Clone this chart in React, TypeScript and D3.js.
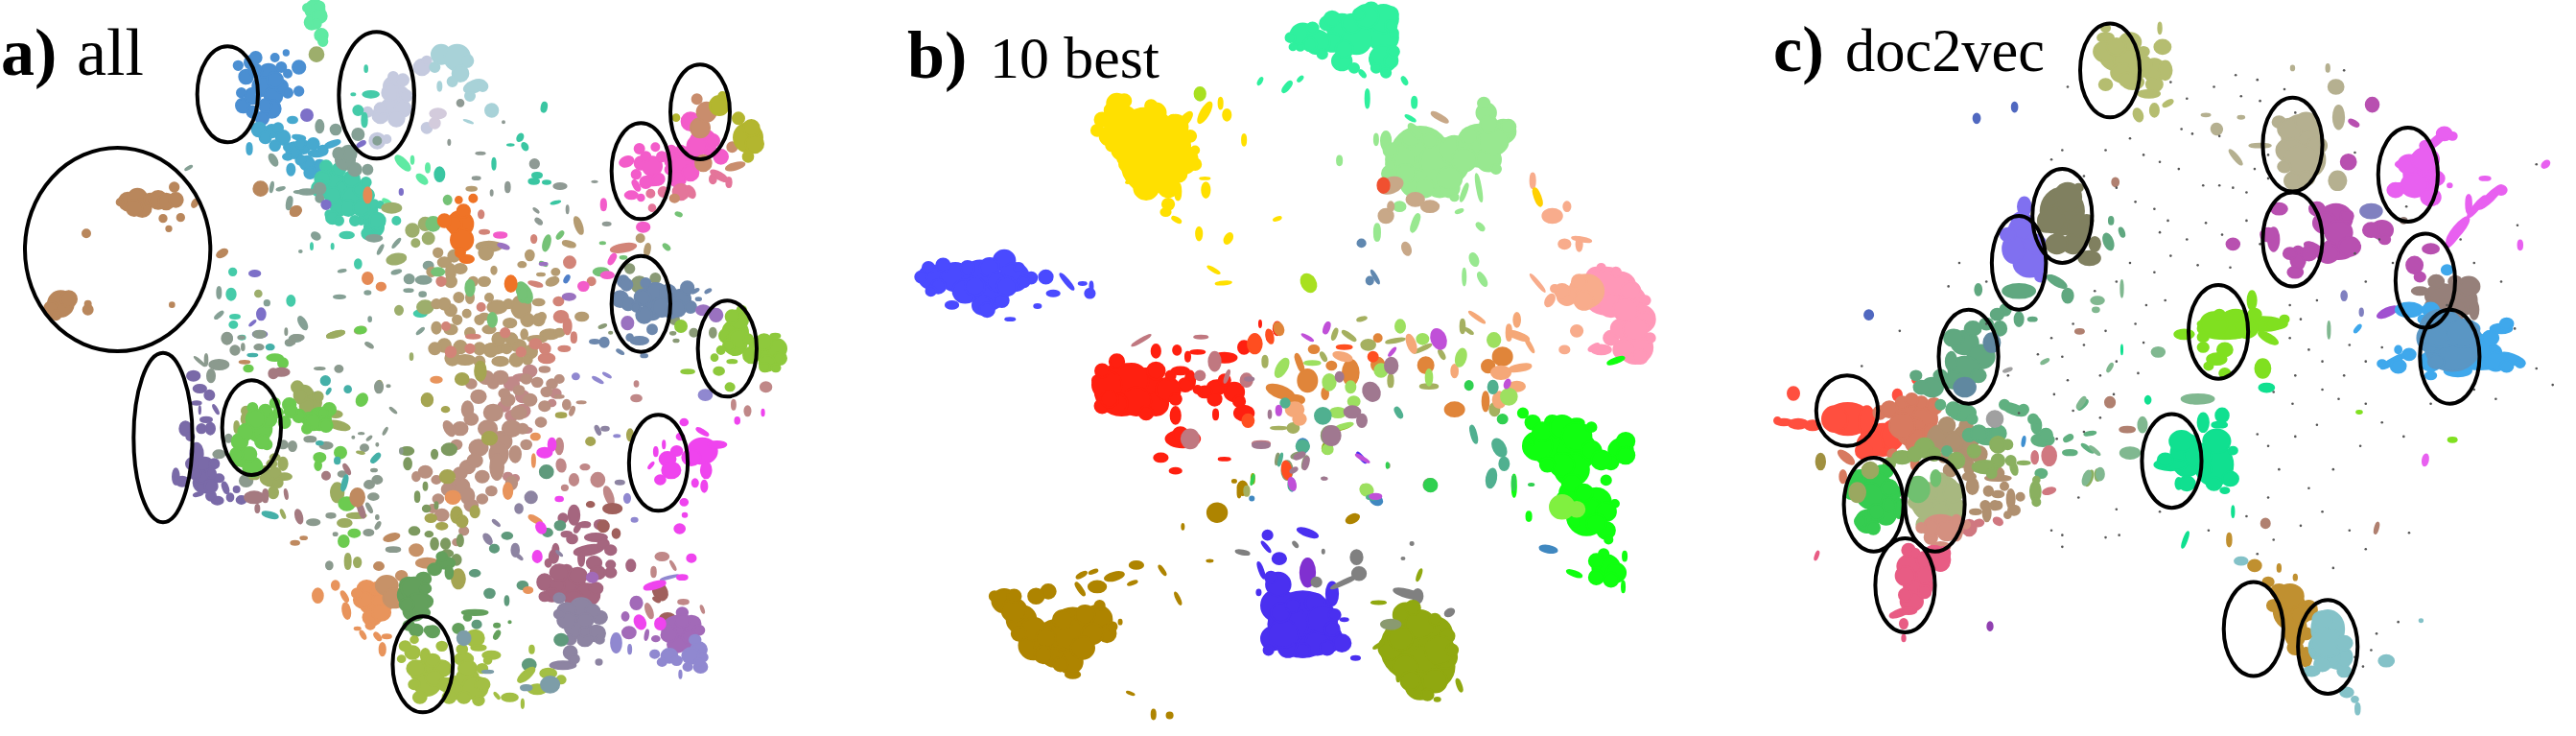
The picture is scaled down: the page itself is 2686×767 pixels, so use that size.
import React, { useEffect, useRef } from 'react';
import * as d3 from 'd3';

// t-SNE style document maps. Every blob is [x, y, spreadX, spreadY?, tilt?] read off the
// picture, in the units of the sheet (crop) it was read from.
type Blob = [number, number, number, number?, number?];
type Pt = [number, number];

const panelTitles = [
  { bold: 'a)', plain: 'all' },
  { bold: 'b)', plain: '10 best' },
  { bold: 'c)', plain: 'doc2vec' },
];

// ---- panel a, upper left sheet
const a1Brown: Blob[] = [[400,630,28],[430,620,30],[445,650,28],[470,625,20],[495,625,28],[520,630,25],[550,625,22],[375,632,10],[420,650,25],[545,585,14],[510,683,11],[565,680,11],[528,715,8],[270,730,12],[695,792,18,10,-30],[190,950,40],[215,935,25],[160,965,22],[175,985,15],[275,968,15],[275,950,9],[538,953,7],[815,590,22],[925,660,18,14,-30],[610,635,8,14,30]];
const a1Blue: Blob[] = [[785,195,20],[800,180,18],[840,230,30],[820,270,30],[855,300,28],[770,240,22],[745,205,14],[760,330,22],[850,340,28],[820,370,20],[860,180,12],[880,270,20],[935,210,20],[935,285,14],[895,165,8],[960,360,15],[800,220,20],[790,300,25],[860,250,25],[880,210,15],[900,290,15],[790,350,18],[830,330,20],[755,290,14],[900,230,12]];
const a1Sky: Blob[] = [[810,405,22],[850,410,20],[885,430,22],[860,455,16],[780,465,8,18],[915,375,15,10],[935,430,20,7,10],[920,470,25],[960,510,22],[990,480,25,10],[950,460,20],[830,430,18],[870,400,15],[900,460,12],[980,450,18],[1000,520,20],[940,500,15],[970,540,18],[1010,470,15],[1040,450,25,8,-20],[940,450,15],[900,490,15,10],[910,530,12,18]];
const a1Mint: Blob[] = [[985,30,30],[975,70,22],[1000,50,22],[1005,110,20],[1260,510,12,30,-45],[1320,560,20,10,40],[1338,525,6,14],[1290,500,4,12],[1210,630,14,5,30],[1010,130,14],[960,25,12],[990,75,14],[1000,20,15]];
const a1Lav: Blob[] = [[1230,270,30],[1250,300,30],[1220,340,30],[1260,340,25],[1190,360,25],[1240,370,25],[1335,400,16],[1320,210,25],[1335,190,14],[1180,440,24],[1210,435,12],[1220,290,25],[1190,340,18],[1270,300,18],[1260,250,18],[1230,240,15],[1150,350,15]];
const a1Teal: Blob[] = [[1040,560,35],[1080,600,35],[1110,620,40],[1150,660,30],[1060,650,25],[1010,560,25],[1170,710,30],[1130,590,25],[1170,640,15],[1030,670,12],[1085,735,22,10],[1130,690,12],[1240,690,12],[1160,295,25,10],[1120,345,15],[1140,375,8,22],[728,850,11],[723,920,14,18],[910,940,12,16],[735,990,15,6],[730,1015,12,10],[757,1055,10,6],[1120,825,10,14],[1315,980,20,10],[975,770,3,10],[1040,770,3,8],[1105,295,6,3],[1145,215,4,10],[1000,590,25],[1040,610,25],[1020,520,18],[1060,530,20],[1100,560,25],[1150,610,20],[1090,650,25],[1130,650,25],[1040,680,20],[1180,690,25],[1150,730,18],[1190,640,10],[1110,690,15],[1060,690,14],[1145,570,15]];
const a1Sage: Blob[] = [[855,500,10,20,-30],[988,738,14,10,30],[905,635,8,20,10],[1000,395,12,20],[1050,405,16],[1080,500,30],[1120,420,18],[1180,440,12],[1170,745,25,10],[1190,780,4,16,30],[1240,760,4,18,40],[1062,928,18,5],[1150,915,9,5],[1280,872,15,14],[1278,908,14,4],[1322,920,10,7],[1325,875,24,12],[1340,830,15,12],[947,1010,10,22,-30],[712,1058,14,16],[835,947,8],[905,1072,12,9],[925,1058,20,10],[1155,1078,12,4,30],[1315,1035,4,14,50],[1157,998,4,7],[940,786,4,3],[1070,847,12,3,-10],[1240,850,15,5,-15],[685,915,6,18],[685,985,5,16,50],[850,585,4,16,10],[878,590,13,4,-15],[590,525,12,3,-30],[945,600,25,4],[1000,590,18],[1090,480,25],[1110,530,20],[1150,530,15],[1060,480,18],[960,600,25,8],[1000,620,12]];
const a1Olive: Blob[] = [[990,170,22],[1225,650,30,15],[1240,810,30,16,-10],[1248,970,12,14],[808,918,10],[1050,1045,28,8,-15],[1127,1032,18,10,-15],[1287,1115,4,10],[1330,960,25,20],[1290,720,20],[1330,700,20],[1340,745,18],[1300,760,12]];
const a1Violet: Blob[] = [[817,982,13,18],[797,855,17,9],[813,1045,22,10],[790,1010,12,3,-40],[1255,600,5,9],[960,360,18],[1130,450,14,6,-30],[1020,640,14]];
const a1Orange: Blob[] = [[1192,896,14,12],[925,660,16,14,-30],[1150,870,16,18],[1150,610,12,24]];

// ---- panel a, upper right sheet
const a2Pale: Blob[] = [[30,170,30],[80,180,40],[110,190,20],[90,230,25],[65,255,15],[10,210,15],[120,300,15],[135,270,35,18,-20],[160,270,15],[188,345,20],[25,270,6,14],[115,380,15,2,20]];
const a2Lilac: Blob[] = [[20,355,25,15],[10,385,16]];
const a2Teal: Blob[] = [[352,335,8,15,10],[277,430,8,12,30],[292,458,8,12,-30],[247,453,10,2],[195,512,5,18],[320,567,16,8],[360,570,12,5],[330,548,15,8],[388,633,15,3,-15],[25,545,15,22]];
const a2Gray: Blob[] = [[322,512,14],[153,479,14,3],[225,382,3,3],[55,445,3,8],[327,658,10,3,40],[425,655,3,12],[335,692,12,6,40],[238,585,7,16],[140,557,12,4],[188,603,3,8],[510,568,8,2],[548,700,12,5],[402,582,20,9],[90,322,10]];
const a2Orange: Blob[] = [[90,700,40],[95,750,35],[70,700,25],[100,660,20],[130,620,12],[85,625,10],[90,790,15],[248,887,18,25],[40,690,20],[110,810,22,12]];
const a2Tan: Blob[] = [[60,850,15,25],[40,820,20,15],[90,840,20,15],[0,850,14,14],[120,930,12,18],[165,880,18,14],[195,845,8,12],[165,990,15,10],[205,960,30,20],[180,1030,20,12],[245,1010,20,14],[280,960,30,35],[290,1045,10,15],[330,1060,30,10],[370,1045,30,15],[400,1040,15,12],[335,945,18,10],[270,1080,25,18],[60,970,18],[60,1030,20,15],[90,1085,20],[15,1025,14,18],[195,1090,35,16],[105,1125,30,15],[215,1130,25,14],[180,770,40,15],[170,790,22],[460,705,10,28,-20],[430,763,20,8,15],[307,798,13,16],[378,880,20,12,-20],[388,850,12,10],[653,745,12],[675,780,8,18,10],[470,990,20,13],[342,858,12,4],[283,827,12,8],[125,590,16,6],[20,790,14],[70,800,18],[60,880,18],[130,880,14],[85,930,15],[40,950,18],[80,1000,14],[120,1040,15],[150,1090,18],[40,1080,20],[10,1090,18],[65,1120,22],[150,1000,14],[210,1060,20],[240,950,14],[250,1060,18],[300,1000,20],[310,1100,20],[335,1000,18],[235,1090,15],[180,930,12],[150,1130,16],[265,1125,20],[300,1125,14],[345,990,12],[185,1095,20],[15,950,14],[110,980,12]];
const a2Rose: Blob[] = [[405,990,22,18],[425,1020,12,25],[445,1055,8,16],[325,1075,18,15],[360,1120,25,15],[325,888,22,6,15],[397,942,15,13],[432,820,18,18],[320,747,8,12],[600,775,40,12,-10],[155,670,8,12],[165,725,15,6],[130,1052,22,6],[500,880,12,12],[415,1090,18,8],[30,880,14],[60,1100,16],[120,1090,14],[230,1040,14],[355,1090,16],[280,1100,14],[155,960,12],[45,1020,12]];
const a2Green: Blob[] = [[50,625,12,14],[360,760,10,25,15],[402,735,6,14,40],[290,915,20,35,-30],[285,920,14,25],[190,1000,14,22],[120,900,14,25],[5,700,22],[20,850,20,12],[350,825,12,4,25],[535,760,8,3],[773,670,10,5,20],[735,772,12,6,40],[530,850,24,12],[600,805,10,4]];
const a2Magenta: Blob[] = [[215,735,20,8],[650,465,15],[700,460,12],[610,505,22,15,-20],[655,510,20],[690,520,30],[720,490,15],[690,565,35,15],[625,610,20,12],[655,618,10],[640,580,8,18,-30],[760,500,30],[790,520,35],[770,560,25],[810,540,25],[850,440,40,35],[810,380,28],[905,490,22],[662,710,20,15],[538,640,8,18],[565,810,8,18,30],[475,895,16,14],[550,860,20,10],[670,490,15],[640,545,14],[710,560,18],[670,570,18],[750,470,15],[800,480,20],[745,530,14],[780,470,15],[830,500,15],[870,470,20],[830,455,30],[880,440,20]];
const a2Coral: Blob[] = [[780,600,25],[810,600,12,20,-30],[725,600,15],[685,605,12],[690,650,10],[930,570,8,15],[900,550,30,10,30],[880,560,10,14]];
const a2Wheat: Blob[] = [[840,400,30],[830,310,15],[860,350,30],[850,510,25],[950,520,30,10,-15],[940,460,15],[760,620,14,12]];
const a2Lime: Blob[] = [[900,330,30],[910,300,12],[990,430,45],[1010,450,28],[1000,400,25],[960,370,18],[765,368,10],[990,490,16]];
const a2Slate: Blob[] = [[700,930,45],[690,970,30],[720,960,30],[780,935,30],[800,900,20],[810,960,18],[600,880,18],[590,935,25],[615,950,20],[665,985,25],[690,1030,15],[650,1065,28,12],[620,1055,10],[540,1070,14,15],[510,1068,15,6],[590,1100,12,4,30],[665,1112,10,5],[825,910,12,4,-30],[865,910,10,4,-30],[835,935,8,4],[660,930,25],[740,915,25],[750,975,20],[770,965,25],[640,960,14],[610,890,18],[670,885,15]];
const a2Moss: Blob[] = [[650,890,25],[700,870,15],[620,840,14],[760,1000,14],[535,1020,12,4,-20],[560,1040,5,3],[755,1042,8,4],[765,1065,8,4],[880,1040,10,15],[820,1040,12]];
const a2Purple: Blob[] = [[850,970,22,15],[890,985,20],[613,1010,18,20],[430,928,20,10],[350,825,12,4],[225,770,18,6,20]];
const a2Grass: Blob[] = [[950,1040,40],[960,1000,30],[920,1050,20],[950,1075,35],[1060,1100,45],[1080,1090,30],[1075,1050,15,7],[1020,1080,25],[780,1020,18],[885,1118,10],[940,1130,15,5],[960,1060,30],[1040,1070,25],[1090,1120,20],[1000,1110,25],[1050,1135,25],[930,1080,18],[905,1095,12],[990,1060,15],[970,970,14],[940,990,20]];
const a2Blue: Blob[] = [[423,872,6,12,30]];

// ---- panel a, lower sheet
const a3Grass: Blob[] = [[1175,20,14,12],[1090,22,18,6],[1205,70,12],[1300,8,14],[1330,10,12]];
const a3Fuchsia: Blob[] = [[1130,270,40],[1100,290,25],[1170,250,25,10],[1130,210,18,6,30],[1060,270,15],[1035,295,22],[1045,330,25],[1015,360,14],[1070,225,10],[1140,330,14,25],[1135,380,8,18],[1110,370,8,12],[1080,180,10],[1003,272,5,14],[1025,250,3,12],[990,315,3,12,40],[1080,430,10],[1068,513,14],[1082,470,6],[1100,605,12],[1075,665,14,7],[1000,690,30,10,-15],[1015,810,14,18],[960,805,14,22,-25],[1225,175,6,10],[1295,150,3,10],[690,510,12,18,-30],[720,250,10,20],[700,275,20,15],[680,600,12,18],[740,420,10,7]];
const a3Rose: Blob[] = [[950,105,14,10],[950,60,5,8],[1020,600,18,12],[1050,628,3,16,-30],[997,648,6,16],[985,770,8,24,-20],[1078,742,14,7],[1130,765,3,12,-20],[1253,145,8,15],[1303,70,15,15],[1215,125,5,15],[640,40,25,10],[640,145,20],[650,205,15,8],[740,255,10,25],[745,315,12,20,-10],[780,360,12,18],[810,320,12,8],[755,385,8,8],[845,360,18,22],[875,410,10,30,-20],[640,100,18],[610,60,20],[660,20,18],[590,130,16],[610,160,16],[730,90,14],[720,120,10],[600,350,12],[620,355,10]];
const a3Brown: Blob[] = [[1015,710,18,28,-30],[1005,735,10,5,30],[1035,795,22,18],[860,505,15,18],[825,437,10,8],[885,450,25,15],[895,528,10,14]];
const a3Orchid: Blob[] = [[1065,830,45],[1100,810,25],[1075,775,15],[1090,870,25],[1060,875,25],[950,745,16,20],[920,787,9,13],[930,838,18,18],[978,845,4,16,10],[1003,857,10,8],[830,665,15],[1050,805,14],[1095,850,20],[1040,845,22],[1120,830,15],[1075,800,20]];
const a3Periwinkle: Blob[] = [[1120,890,22],[1100,910,25],[1125,945,18],[1040,910,22],[1000,905,12],[1070,968,3,12],[895,870,14,30],[932,890,4,14],[1138,95,18,16],[925,418,8,14],[945,485,8,6],[1040,665,25,3,-15],[897,223,8,3],[845,48,16,4,30],[870,33,12,3,30],[785,37,9],[1110,860,15],[1130,915,14],[1020,930,12],[1060,925,14],[1090,945,12],[1120,930,12]];
const a3Mauve: Blob[] = [[780,470,15,30],[820,580,40,15,-10],[880,580,15],[835,620,20],[880,650,15],[800,605,8,25],[725,600,12,20],[700,680,20,25],[770,690,40],[735,690,20],[815,720,35],[780,730,25],[935,628,12,18],[850,500,14],[760,530,14,8],[750,480,12,14],[810,500,14,8],[775,545,14],[840,540,30,12],[860,560,15],[845,650,20],[880,625,12],[760,640,14],[740,650,25],[720,720,20],[790,660,25],[840,700,18],[730,580,8,20],[790,510,6,16,30],[700,725,14,14],[710,620,8,12]];
const a3GreyLav: Blob[] = [[800,760,30],[760,770,25],[790,820,35],[840,840,25],[850,790,20],[810,860,20],[770,900,18,20],[750,940,35,12],[848,930,8],[905,368,12,6],[845,205,5,15,-25],[865,200,10,6],[663,415,16,18],[630,450,10,14],[740,590,10,3,40],[630,600,12,4,40],[620,580,10,20],[568,495,12,4,40],[545,545,8,18,-35],[830,770,20],[740,730,15],[770,860,15],[810,800,22],[850,860,12],[780,920,14],[760,800,25],[810,835,15],[740,780,14]];
const a3Dark: Blob[] = [[745,860,18],[708,525,13,12],[563,575,12,12],[550,715,14,14],[705,335,18,20],[515,812,12],[658,938,18,18],[742,503,14,14],[598,535,14,10],[640,690,14,12],[510,652,14,10],[597,738,5,14]];
const a3Tan: Blob[] = [[545,200,25],[580,240,30],[575,280,25,35],[570,320,18,40],[610,200,25],[560,150,25],[630,150,20],[490,140,15,25],[620,280,15,25],[610,370,15,20],[470,380,25],[490,410,18,25],[375,335,18],[405,360,12],[350,350,10,14],[580,40,20],[630,80,14],[700,130,15,15],[700,15,14,8],[740,45,12],[740,100,12,4],[760,125,10,15],[800,118,12,3],[775,145,5,14,20],[520,100,20],[500,170,18],[470,200,20],[520,260,25],[490,320,20],[530,350,18],[560,60,14],[600,110,18],[660,110,18],[640,200,15],[650,250,14],[590,90,14],[540,40,20],[500,60,14],[460,250,14],[440,200,12,25,-30],[500,440,18],[480,520,12],[470,340,18],[440,390,20],[410,420,14],[395,450,12],[530,420,14],[555,395,14],[510,300,20],[420,470,18],[460,555,10],[720,60,14],[680,55,14],[705,85,14],[690,180,14],[650,45,14]];
const a3Olive: Blob[] = [[550,230,20],[460,470,15,25],[390,480,15,12],[420,505,15,10],[475,490,15,18],[510,460,12,18],[435,350,20],[380,110,15,20],[430,140,10,8],[525,20,15,30],[745,158,14,7],[825,240,12],[933,220,8,18],[465,670,18,30],[475,45,18],[250,68,8,18]];
const a3Moss: Blob[] = [[440,265,20,18],[400,280,8,14],[325,270,18,12],[327,310,10,18],[375,380,5,12],[353,413,6,16],[378,450,10,10],[405,440,4,10],[430,560,12,16],[400,560,10,18],[435,590,15,10],[470,550,8,18],[385,530,10,8],[345,520,14,12],[460,610,12,16]];
const a3Orange: Blob[] = [[600,395,12,25],[450,415,20],[405,47,15,9],[675,225,12,10],[670,300,4,20],[675,485,20,8,30],[655,705,12,9],[240,740,45],[215,700,25],[230,790,25],[205,735,25],[160,770,10,25,-10],[155,725,6,18,-30],[130,690,10,14],[82,722,14,22],[190,825,8,4],[205,845,5,14,-30],[245,850,6,14,-40],[270,850,12,6],[258,890,8,20],[260,740,30],[190,715,15],[245,700,20],[225,815,12],[255,775,25]];
const a3Clay: Blob[] = [[270,690,30],[290,730,30],[310,660,15],[350,580,18],[380,620,30,15]];
const a3Forest: Blob[] = [[340,720,40],[330,690,25],[370,670,20],[345,770,30],[375,740,20],[430,620,25,18],[400,640,18],[375,775,12],[350,830,18],[395,835,18],[465,825,15],[510,775,35,8],[490,790,10],[570,845,6,14,30],[570,815,8,6],[605,805,3,3],[345,700,35],[355,745,30],[325,750,20],[375,700,15],[420,600,14],[440,650,10,20],[385,830,12],[330,815,15]];
const a3Lime: Blob[] = [[370,960,35],[340,900,20],[320,880,15],[380,1000,35],[345,1000,15],[420,950,25],[375,910,12,22],[460,1010,35],[490,980,30],[510,1010,35],[480,920,25,20],[510,855,25],[555,908,24,12],[545,925,10],[520,1050,15],[605,1040,22,12],[650,970,28,12,-40],[680,1015,25,15],[710,965,22,15],[745,985,12],[665,890,6,12],[520,885,20,8],[640,1060,3,14],[570,1035,3,12,-40],[350,950,25],[400,980,25],[360,1040,18],[430,1000,20],[395,925,20],[440,1040,18],[480,1040,18],[530,1000,20],[490,950,25],[475,890,14],[530,950,14],[345,860,10],[310,920,10],[420,880,14]];
const a3Steel: Blob[] = [[480,855,18,22],[715,1000,25,25],[650,1010,15,8],[545,960,15,4]];

// ---- panel a, left sheet
const a6Purple: Blob[] = [[245,155,20,15],[265,195,20,12],[295,215,15,15],[315,260,4,16,-30],[285,292,18,8],[255,240,14,5],[265,262,2,12],[220,320,18,22],[235,345,12],[270,320,14],[298,320,14,18],[255,400,20,35],[280,440,30],[310,430,15],[190,470,10,25],[210,485,20,15],[280,490,35,30],[325,475,15,12],[320,545,18,12],[300,530,15],[260,525,15,5,-15],[345,505,8,18,-20],[360,535,10,12],[380,510,9,9],[395,543,15,12],[270,470,20],[300,500,20],[250,460,18],[240,430,18],[300,460,15]];
const a6Sage: Blob[] = [[350,38,16,18],[325,120,30,15],[300,155,12,20],[265,110,22,3,40],[285,105,4,18],[375,75,14,14],[400,65,4,10],[395,35,10,4],[452,25,20,11],[450,65,14,8],[548,50,14,7],[570,35,20,8],[535,17,3,10],[795,60,13,4,30],[640,132,16,3],[700,133,12,10],[628,210,8,3],[825,190,12,18],[855,187,5,3],[870,263,13,3,40],[845,328,3,12,30],[770,335,8,2],[795,350,9,3,-40],[745,347,3,3],[820,370,3,4],[780,380,12,10],[810,450,9,4],[895,390,4,8],[555,375,12,15],[525,370,15,12],[410,483,20,18],[610,353,18,8],[660,373,20,10],[355,350,10,12],[325,400,18,12],[620,613,20,9],[675,592,14,7],[689,650,6,4],[670,748,10,12],[795,495,15,12],[820,480,15,12],[808,533,16,10],[795,568,5,16,-30],[822,623,5,12,30],[820,597,4,6],[793,645,15,9],[870,698,22,7],[710,462,12,8]];
const a6Green: Blob[] = [[450,320,40],[480,290,25],[390,360,25],[395,410,28],[430,440,30],[475,370,15],[430,255,15],[500,240,15],[470,265,20],[640,290,35],[670,260,20],[605,290,20],[575,280,20],[545,245,20],[530,300,18],[417,132,14,10],[705,395,18,18],[525,115,15,15],[500,98,25,10],[725,555,25,20],[748,647,18,12],[715,672,16,18],[772,230,16,20,30],[768,12,17,10],[640,410,18,14],[635,435,10,15],[440,290,30],[410,330,25],[460,360,22],[420,400,22],[380,400,20],[620,300,25],[660,310,20],[600,320,15],[550,265,20],[510,270,15],[650,270,15]];
const a6Olive: Blob[] = [[420,290,25],[380,315,7,18],[590,215,30],[570,190,18],[620,240,25],[700,310,35,12,15],[690,275,20,10],[490,475,35,25],[530,470,22,10],[525,430,14,20],[500,410,15,10],[490,430,15,12],[435,470,15,8],[495,520,15,18],[690,25,28,8,-15],[755,592,30,8],[768,395,12,3,10],[718,615,22,12],[728,735,9,24],[758,738,11,15],[695,520,20,30],[525,587,4,14,-25],[600,250,22],[580,220,18],[635,220,15],[410,265,14],[500,460,18],[470,450,12],[510,490,14]];
const a6Mauve: Blob[] = [[435,535,30,18],[445,570,6,12],[470,530,8,20],[575,595,10,22,-15],[535,525,4,15,-10],[725,447,6,18,-30],[660,467,12,12],[520,143,25,12],[495,148,14,15],[770,575,8,25,-20]];
const a6Brown: Blob[] = [[758,535,22,28],[865,660,25,10,-15],[825,750,15,12],[563,677,13,6],[590,662,10,4],[405,112,16,4]];
const a6Teal: Blob[] = [[485,65,12,8],[430,90,15,4],[658,170,14,14],[668,203,4,10,30],[728,197,10,10],[695,420,8,10],[640,365,10,5],[815,412,18,7,-45],[485,590,25,8,15],[718,490,7,25,15]];

// ---- panel b, whole panel
const bMint: Blob[] = [[900,60,30],[960,50,35],[985,80,30],[985,125,28],[930,85,30],[880,90,20],[820,75,25],[850,90,25],[900,130,20],[960,20,15],[1000,30,15],[870,50,15],[795,80,10],[985,40,30],[733,173,3,8,30],[788,185,5,14,40],[815,168,3,7,45],[952,210,4,20],[1048,218,5,12],[1028,172,4,9,-30],[942,157,4,9,-40],[1040,252,3,12,-60],[962,135,3,14,-20],[880,40,16],[920,50,20],[950,35,25],[1005,70,10],[1000,130,14],[1005,110,12],[905,105,18],[925,145,10],[860,115,10],[835,95,14],[815,100,8],[990,155,10],[970,145,10],[1000,55,12],[935,30,12],[840,60,12],[800,100,7]];
const bYellow: Blob[] = [[500,290,60],[450,260,35],[510,350,60],[540,310,50],[575,340,30],[440,220,20],[480,260,25],[400,278,12],[425,290,20],[490,380,25],[545,400,20],[545,435,12],[580,255,8,20,40],[620,240,8,25,30],[652,220,4,12],[665,245,8,12],[700,298,4,12],[565,408,6,18],[622,405,8,16],[540,452,10,8],[562,468,10,4,30],[608,498,6,14],[668,508,7,12,30],[768,466,8,3,-20],[638,575,14,3,30],[658,603,16,3,-5],[470,385,12,3,-20],[620,380,10,2],[410,255,15],[430,235,15],[455,215,14],[520,240,20],[560,270,25],[590,290,12],[600,320,8],[600,350,12],[470,330,30],[460,350,15],[450,320,20],[500,400,25],[530,380,25],[540,355,30],[565,370,18],[480,290,30],[525,270,20],[430,310,12],[555,255,10],[510,225,12]];
const bLeaf: Blob[] = [[610,200,11,14],[832,603,14,20,-30]];
const bBlue: Blob[] = [[60,590,25],[110,590,30],[160,590,35],[210,555,22],[180,570,20],[230,590,30],[180,630,30],[130,620,25],[75,610,15],[295,590,14],[265,592,12],[338,600,4,22,-40],[370,604,8,3],[385,625,10,10],[388,610,3,10],[310,625,13,6],[278,652,7,4],[103,650,13,8],[222,680,10,3],[165,650,20],[40,590,12],[55,570,12],[85,565,14],[135,570,14],[150,610,20],[195,600,20],[240,570,10],[250,600,12],[205,640,14],[175,660,15],[60,620,10],[215,610,20]];
const bPaleGreen: Blob[] = [[1060,330,60],[1020,340,30],[1110,345,50],[1130,320,30],[1180,310,45],[1230,280,25],[1195,240,20],[1200,340,25],[1050,390,30],[1100,390,30],[1120,400,20],[990,300,10,20],[970,297,4,12],[1180,400,4,30,-10],[1150,410,4,20,20],[895,342,5,10],[1018,440,12,10],[1050,475,6,20,20],[972,495,6,18],[1170,553,8,14,-20],[1150,590,3,18],[1187,595,6,16,-30],[1140,450,8,3,-20],[1183,483,5,10,-45],[1000,320,15],[1040,295,18],[1000,370,18],[1080,300,15],[1120,380,25],[1150,340,25],[1210,300,30],[1240,270,15],[1160,290,18],[1200,265,18],[1190,220,12],[1215,360,10],[1070,400,20],[1130,420,8],[1030,370,20],[1000,350,10],[1050,280,8,20,-40]];
const bMixedUpper: Blob[] = [[1100,250,5,20,-60],[1000,395,25,16,-20],[990,460,15,15],[1000,440,6,10],[1032,530,8,14,-20],[1050,425,18,14],[1080,440,18,12]];
const bRedOrange: Blob[] = [[985,395,12,16]];
const bMisc: Blob[] = [[940,518,8,8],[968,590,3,16,-30],[957,598,7,8]];
const bPink: Blob[] = [[1490,640,30],[1510,680,30],[1420,590,20],[1470,610,30],[1500,740,35],[1450,720,15],[1430,745,20,10],[1470,700,20],[1440,620,50],[1415,740,12,5,-30],[1520,680,15],[1530,720,10],[1520,640,10],[1460,580,10],[1490,620,20],[1430,570,8],[1500,700,25],[1510,760,15],[1475,745,20],[1450,650,25],[1480,660,25]];
const bPeach: Blob[] = [[1400,620,35],[1360,630,20],[1380,705,12],[1355,745,10,8],[1325,640,8,14,30],[1300,603,3,24,-40],[1330,460,20,15],[1360,440,7,10],[1355,520,12,10],[1385,520,6,15],[1390,510,20,4,10],[1290,385,5,16],[1350,620,15],[1385,600,15],[1395,640,20],[1335,615,8]];
const bGold: Blob[] = [[1300,420,6,20,-20]];
const bRed: Blob[] = [[450,830,55],[500,820,35],[520,860,25],[470,810,35],[410,865,15],[545,830,25],[400,810,10],[440,770,15],[560,885,10,18],[575,935,35,18],[530,975,14,9],[645,825,20,15],[680,835,20],[620,835,15,12],[590,810,10,20],[570,790,18,8],[700,740,12,14],[722,732,12,20],[563,746,8,10],[520,748,9,14],[605,750,15,4],[768,700,8,14],[752,716,6,12],[660,762,25,10],[700,880,20,16],[642,883,5,11],[560,1003,12,6],[733,690,2,7],[585,760,5,10],[660,978,12,3],[420,820,30],[410,790,14],[480,855,30],[500,880,14],[440,860,22],[520,790,18],[560,850,12],[580,820,14],[605,830,8],[660,810,12],[640,850,14],[690,855,12],[550,800,10],[425,850,18],[570,925,15]];
const bRoseGray: Blob[] = [[590,935,18,20],[490,725,22,3,-30],[612,718,14,3],[640,770,12,20],[610,800,10,10],[705,810,12,14],[735,945,18,5],[665,802,3,14,20]];
const bOrange: Blob[] = [[165,175,8,30,-20],[190,230,30,35],[105,265,45,18,20],[150,290,30,15],[325,205,25,40],[245,270,10,18],[265,183,15,13],[410,180,20,22],[560,182,24,25],[800,155,30,28],[650,320,30,22],[100,68,14,20,-20],[210,132,16,12],[410,97,12,12],[755,185,20,20],[747,295,10,30]];
const bRedOrange2: Blob[] = [[25,115,22,30],[125,510,14,28,-10],[4,355,18,20],[72,92,10,22,-15],[305,125,24,6],[395,155,15,15]];
const bPeachCore: Blob[] = [[150,320,28,22],[165,350,20,18],[795,205,30,20],[790,290,20,25],[855,190,35,10,-10],[515,115,12,30,-20],[650,200,10,20],[845,40,10,22],[720,32,30,5,35],[820,80,8,25],[850,90,35,10,20],[885,120,5,25,-30],[300,155,30,12,15],[845,248,25,15]];
const bLime: Blob[] = [[110,190,15,32,30],[258,235,20,25],[325,250,15,18],[335,295,18,15],[285,330,25,15],[420,198,20,20],[480,60,15,20],[550,100,18,16],[670,158,15,28,15],[820,280,25,25],[773,103,20,22],[205,175,25,6],[305,372,28,6,-15],[253,445,16,15],[375,572,20,18,30],[570,220,10,25]];
const bTeal: Blob[] = [[238,340,25,25],[120,300,14,14],[175,435,20,18],[475,330,8,18,-30],[710,398,8,28,-15],[790,440,18,30,-30],[805,490,15,20],[105,477,4,20,15],[770,250,15,20],[765,535,15,30,10],[140,555,10,18],[395,595,20,7]];
const bGreen2: Blob[] = [[575,557,20,20],[695,245,12,14],[800,350,15,14],[18,540,3,16,15],[835,550,5,24],[890,555,8,3],[440,495,3,8]];
const bMauve: Blob[] = [[265,402,28,30],[390,265,25,30,-30],[330,328,25,18],[165,465,18,8,-25],[185,488,8,20,15],[360,355,15,20],[452,183,20,25],[290,218,12,15],[45,432,27,9],[147,510,12,6,-30],[243,536,8,3],[8,225,14,5],[72,335,4,12]];
const bOliveBits: Blob[] = [[450,230,8,20],[320,90,25,6,35],[380,118,22,16],[465,105,30,5,-10],[550,130,30,5,-25],[610,148,6,16,-30],[570,248,28,7],[360,37,15,5,-15],[57,170,8,18],[100,378,25,4],[145,378,18,15],[0,575,8,15],[240,155,6,15,-30],[775,320,15,20],[675,60,7,22],[695,75,15,4,35],[275,85,6,18,20]];
const bViolet: Blob[] = [[600,100,22,32,-20],[100,323,8,15],[190,95,20,4,30],[250,65,8,18,20],[455,140,4,16,40],[142,553,10,20,-15],[362,473,24,4,30],[403,592,18,8],[815,240,8,14,20]];
const bGreen: Blob[] = [[1340,950,50],[1380,960,40],[1300,950,30],[1370,1000,35],[1290,900,15],[1330,900,15],[1370,1050,25],[1420,1070,30],[1400,1100,40],[1440,1130,18],[1470,960,25],[1450,985,15],[1380,900,15,8],[1440,1023,10],[1480,940,18],[1458,1073,8],[1440,1210,28],[1460,1220,20],[1435,1180,10],[1478,1185,4,10],[1375,1222,16,5,20],[1475,1250,3,12],[1282,1100,5,10],[1252,1035,4,24],[1460,768,18,5,-20],[1310,920,20],[1350,910,25],[1380,930,30],[1410,960,20],[1430,980,20],[1350,990,25],[1320,990,15],[1370,1030,20],[1395,1050,18],[1350,1060,10],[1440,1090,20],[1420,1115,20],[1270,880,10],[1285,940,10,6,40],[1480,970,18],[1410,910,10],[1375,1110,12],[1445,1150,8],[1420,1230,15],[1420,1195,15],[1450,1235,15]];
const bYellowGreen: Blob[] = [[1350,1080,25],[1380,1085,16]];
const bSteelBlue: Blob[] = [[1322,1170,18,7,10],[798,1033,6,13],[820,950,12,15],[970,1065,13,10,30],[716,1062,4,4]];
const bGold2: Blob[] = [[210,1280,25],[245,1320,30],[300,1260,15],[270,1375,30],[320,1370,50],[350,1340,45],[400,1320,30],[420,1350,18],[230,1300,25],[345,1410,25],[350,1437,15,8],[310,1400,20],[400,1250,18,12],[435,1228,20,8,-15],[480,1204,14,8],[368,1225,4,12,60],[392,1218,9,3,-20],[365,1255,4,16,-35],[472,1242,10,3,-20],[533,1215,3,12,-35],[565,1275,3,14,-25],[630,1195,6,2],[515,1522,4,10],[548,1524,6,6],[468,1477,8,2,20],[575,1122,2,6],[645,1092,20,20],[447,1325,3,5],[697,1040,10,15],[690,1050,3,10],[680,1025,4,3],[922,1105,14,8,-25],[190,1270,10],[230,1270,14],[275,1270,16],[270,1340,24],[295,1360,20],[240,1350,15],[290,1395,18],[330,1320,20],[375,1310,20],[390,1350,22],[370,1380,24],[405,1290,10],[430,1335,10],[325,1415,15]];
const bIndigo: Blob[] = [[820,1330,70],[770,1290,35],[770,1245,25],[760,1360,25],[870,1360,30],[900,1370,18],[880,1265,12,25],[790,1380,20],[845,1285,20],[850,1370,25],[748,1140,10,10],[772,1190,14,12],[745,1165,3,14,-40],[735,1215,4,18,-20],[730,1262,4,6],[928,1402,9,4],[905,1320,8,3],[830,1135,22,7,20],[940,975,3,14,-40],[790,1330,40],[860,1320,30],[780,1350,30],[750,1385,10],[885,1310,12],[870,1380,15],[820,1385,15],[755,1230,12],[775,1305,20],[880,1340,15],[800,1290,15]];
const bPurple: Blob[] = [[830,1220,15,30]];
const bGray: Blob[] = [[697,1177,14,4,10],[930,1187,12,15],[935,1222,14,14],[905,1240,30,4,-25],[848,1240,10,10],[805,1160,3,7,-40],[862,1175,2,4],[1043,1158,3,3],[1025,1190,3,2],[863,1019,4,2],[1035,1265,30,8,15],[1055,1270,10,15],[1120,1305,10,7,-30],[1010,1350,15,10]];
const bOlive: Blob[] = [[1050,1380,70],[1080,1420,50],[1090,1350,35],[1110,1400,25],[1030,1310,25],[1060,1460,30],[1000,1380,25],[1140,1460,4,14,-20],[1115,1355,15],[1095,1490,6,4],[1015,1440,3,12],[975,1284,15,3],[1058,1225,3,13,20],[975,1375,12,3,-30],[950,1043,12,10,30],[718,1020,3,10],[870,955,10,12],[905,910,16,3,-20],[1060,1330,30],[1030,1420,25],[1090,1450,25],[1040,1450,20],[1100,1385,30],[1020,1360,25],[1125,1385,12],[1090,1320,12],[1045,1295,15],[1075,1480,12]];
const bMidMix: Blob[] = [[875,928,17,20],[1000,1330,20,10],[825,985,5,14,15],[810,970,14,6,-15],[1080,1033,13,13],[995,992,2,4],[768,978,3,12,10],[788,1002,11,20]];

// ---- panel c, big lower left group
const c8Red: Blob[] = [[230,170,70,50],[190,170,40,40],[290,180,25,50],[60,90,18,20],[30,180,25,10],[75,185,30,15],[120,190,25,15],[10,175,10,10],[340,235,50],[310,240,40,30],[370,220,35,45],[385,95,14,18],[440,42,8,15],[300,250,40],[280,270,25]];
const c8Salmon: Blob[] = [[420,150,45],[470,170,40],[430,210,45],[400,120,20],[450,240,40],[330,150,20],[215,350,10,20],[225,290,30,12,40],[400,190,40],[500,130,25],[360,140,25],[370,280,15],[460,120,20],[490,210,25],[430,110,20],[440,310,12,20]];
const c8Tan: Blob[] = [[520,230,40],[600,230,40],[590,290,30],[540,190,25],[630,460,18,8],[665,465,12,25],[670,395,14,15],[700,405,18,10],[740,420,12,30],[750,455,18,15],[770,413,12,12],[620,380,18,25],[700,355,40,8],[610,320,15,25],[560,240,30],[640,280,25],[600,190,20],[650,320,15],[610,350,20,12],[550,330,20],[530,290,15],[700,340,18],[690,310,12],[720,380,12],[690,440,14],[660,440,14],[730,470,10],[700,440,12]];
const c8Teal: Blob[] = [[490,70,30,25],[590,150,40,25],[670,225,45,25],[610,220,20],[820,190,15,25],[840,235,35,20],[750,140,40,15,20],[920,230,15,8,-30],[925,275,22,8],[980,262,22,5,35],[988,215,18,5,-10],[965,125,20,8,-45],[835,340,18,14],[640,215,25],[560,140,22],[620,170,15],[520,125,15],[700,215,25],[540,270,15],[850,220,20],[810,170,15],[780,140,15],[720,125,15]];
const c8Moss: Blob[] = [[660,320,40,20],[700,250,25],[700,300,20],[625,270,20],[570,300,25],[400,290,30,20],[470,260,30],[817,397,16,32],[985,355,10,25,20],[1012,345,8,18],[750,325,10,20,-15],[780,307,20,5],[730,250,15],[740,300,15],[680,340,15],[440,280,22],[500,280,20],[360,310,18],[820,430,12],[820,360,10]];
const c8Gray: Blob[] = [[690,170,25,25],[730,17,14,4,-20]];
const c8Rose: Blob[] = [[860,285,22,30],[815,290,10,20],[860,395,20,9,-15],[700,490,15,10,30],[640,495,15,10,-10],[610,510,22,25]];
const c8Bright: Blob[] = [[300,380,70,40],[340,430,50,50],[290,490,35,35],[350,470,30],[370,400,25],[240,400,20],[390,450,15,30],[340,335,30,20],[270,370,40],[320,370,35],[300,410,40],[360,385,25],[320,460,25],[270,490,18],[310,510,20],[360,440,20],[260,350,15]];
const c8Sage: Blob[] = [[260,400,25,30],[300,330,25]];
const c8Blend: Blob[] = [[500,430,70,60],[530,400,50,50],[560,450,35],[470,500,25],[480,400,30],[560,400,30],[470,450,30],[520,460,30],[570,480,20],[440,430,20],[520,360,20]];
const c8Leaf: Blob[] = [[450,390,35,40],[505,355,15,25]];
const c8Dusk: Blob[] = [[520,500,50,30],[570,510,20,40],[490,540,20],[520,570,30,15],[490,510,25],[540,520,30],[460,510,15],[600,500,12]];
const c8Pink: Blob[] = [[440,630,55,40],[450,690,45,40],[430,740,35,30],[420,580,20,20],[520,610,30,35],[395,775,35,10,-20],[405,810,12,15],[405,855,5,10],[133,597,4,14,20],[410,660,30],[470,610,25],[470,660,25],[440,590,15],[410,720,20],[470,710,20],[420,770,25,10],[530,590,20],[500,590,20],[500,575,20,8]];
const c8Olive: Blob[] = [[145,303,14,25]];
const c8Purple: Blob[] = [[675,818,8,13]];
const c8Blue: Blob[] = [[780,240,4,15,10]];

// ---- panel c, the rest
const cOliveTop: Blob[] = [[720,120,30,30],[745,90,20],[790,150,20,25],[805,100,15],[810,150,12,20],[700,180,12,12],[700,80,15,10],[760,140,25,25],[800,60,3,12],[790,235,8,14],[760,245,8,14,-20],[815,220,10,5,-30],[750,175,20,15],[700,110,22],[740,130,25],[730,155,20],[720,100,18],[770,110,10],[790,180,15],[780,200,20,8],[700,60,8],[740,170,15]];
const cBeige: Blob[] = [[1060,290,35,45],[1080,340,25,35],[1040,320,25],[1020,260,12],[985,310,20,4],[1125,185,14,15],[1130,250,10,25],[1110,145,3,8],[1045,145,3,5],[885,245,8,3],[905,275,10,12,-30],[950,250,6,3],[940,335,4,20,-40],[1050,385,20,20],[1128,385,16,20],[1040,275,22],[1070,260,20],[1090,310,18],[1060,340,30],[1030,355,12],[1070,380,15]];
const cOrchid: Blob[] = [[1148,345,14,16],[1192,223,12,15],[1158,262,10,5,30],[1125,465,30,30],[1130,530,30,22],[1090,445,14,14],[1055,550,14,25],[1010,510,10,25],[1050,580,14,12],[1085,530,20,10,30],[935,520,12,12],[1020,445,15,12],[1210,490,20,20],[1270,565,15,18],[1300,530,15,10],[1105,475,22],[1130,495,25],[1150,525,20],[1110,540,20],[1075,540,15],[1040,540,12],[1000,500,14],[1190,490,15],[1215,510,10],[1145,460,12],[1280,590,10]];
const cSlate: Blob[] = [[1190,450,20,15],[1140,630,5,10],[1172,665,3,8]];
const cPinkViolet: Blob[] = [[1280,370,30,45],[1310,300,25,8,-40],[1250,400,25,10],[1250,350,15,8],[1340,290,8,8],[1295,400,15,30],[1410,420,30,8,-45],[1350,490,30,10,-50],[1370,435,5,20],[1400,380,10,4],[1465,522,4,10],[1512,350,8,6,-40],[1290,980,5,12,10],[1335,395,4,4],[1260,350,20],[1290,340,25],[1310,380,15],[1270,395,25],[1235,405,15],[1290,310,10],[1325,285,14],[1300,420,18],[1430,405,10],[1385,440,25,6,-50],[1340,510,20,6,-50]];
const cViolet: Blob[] = [[1220,665,20,8,-25]];
const cBrownGray: Blob[] = [[1360,640,25,30],[1320,630,30,25],[1280,620,15,8],[1250,470,6,6],[1370,610,20],[1340,660,25],[1380,660,8,20],[1310,600,14],[1345,600,12],[1300,650,10]];
const cBlue: Blob[] = [[1400,750,30,20],[1430,700,20,10],[1450,765,25,10,20],[1230,770,25,6,-30],[1300,800,10,8],[1260,660,25,15],[1370,700,20,15],[1390,775,40,12],[1240,745,6,8],[1165,700,3,10,40],[1330,575,10,10],[1380,740,30],[1350,770,25],[1420,770,20],[1300,770,20],[1410,720,15],[1380,720,15],[1440,780,12],[1260,755,12],[1240,780,14],[1210,775,8],[1350,790,25,12],[1440,690,12],[1465,775,8],[1300,660,15],[1285,680,8]];
const cSteel: Blob[] = [[1340,740,50,50],[1300,720,25,30],[1320,700,40],[1360,710,30],[1310,770,15]];
const cLime: Blob[] = [[920,700,50,22],[990,690,40,15],[1015,690,20,10],[890,690,20,10],[845,712,18,10],[905,765,18,12],[880,718,10,10],[970,640,8,20],[990,785,14,20],[920,795,10,10],[890,780,8,8],[1000,720,20,8,30],[1340,937,8,5],[1168,878,5,3],[940,690,30],[900,690,25],[960,700,20],[1030,680,8],[880,740,10],[920,745,14],[910,670,10],[975,670,12]];
const cJade: Blob[] = [[850,970,30,45],[900,990,35,45],[820,990,30,12],[880,900,10,20],[915,885,12,15],[910,905,14,6],[835,1030,6,12],[920,1045,8,6],[997,826,14,9],[847,1150,3,18,20],[935,1090,2,12],[730,745,1,10],[778,852,5,8],[870,970,25],[840,940,22],[850,1030,15],[905,940,25],[930,1020,15],[880,1000,15],[810,980,14],[900,1030,14],[935,960,8]];
const cFaded: Blob[] = [[870,850,30,10],[745,965,18,12],[768,905,8,16],[797,750,12,10],[655,858,4,14,35],[680,960,12,3,40],[690,1010,7,13],[665,1018,6,16,20],[588,770,8,3,-30],[708,783,3,10,30],[730,615,2,18],[685,640,12,8],[682,660,6,5],[1112,703,2,18]];
const cMisc: Blob[] = [[740,915,14,6],[708,857,9,11],[652,706,8,5],[718,388,6,9],[995,1115,8,10],[1200,1125,3,12,15]];
const cSmall: Blob[] = [[462,252,6,10],[532,228,5,10],[263,671,8,10]];
const cIndigo: Blob[] = [[545,500,25,40],[560,560,30,30],[550,440,12,20],[530,530,20,30],[520,500,14],[570,520,20],[545,470,18],[580,590,10]];
const cOliveGrey: Blob[] = [[620,450,40,50],[630,420,25,30],[650,490,20,35],[670,550,20,15],[590,480,14],[680,520,10,15],[600,470,25],[640,520,20],[665,470,12],[610,520,20],[600,425,12],[650,400,8],[600,430,10]];
const cSage: Blob[] = [[540,620,30,15],[610,600,20,8,30],[630,630,10,15],[705,515,8,18,-20],[730,495,4,10,-20],[710,470,4,8],[565,680,8,4],[515,660,10,12],[440,730,25],[470,760,25],[440,790,30],[415,770,10,20],[380,825,20,20],[505,700,12,15],[540,680,8,15],[465,617,6,12],[455,700,15],[420,720,18],[420,810,18],[465,800,14],[395,800,12],[480,690,12],[500,670,12],[360,825,14],[350,800,10]];
const cBlueGray: Blob[] = [[440,825,20],[490,730,15,20]];
const cGoldLow: Blob[] = [[1040,1300,30,40],[1050,1340,20,40],[1020,1260,15,15],[975,1205,12,12],[928,1150,4,14],[1020,1210,3,8],[1050,1230,3,6],[1070,1400,10,20],[1075,1300,15,20],[1040,1270,25],[1060,1310,18],[1010,1290,12],[1050,1380,14],[1000,1240,10],[1070,1350,12]];
const cPaleTeal: Blob[] = [[1110,1340,30,40],[1130,1400,25,25],[1090,1380,15,25],[1080,1430,15,10],[1145,1475,12,10],[1165,1510,4,12],[1218,1408,14,12],[1282,1322,3,3],[950,1195,12,8],[1110,1400,22],[1110,1370,30],[1140,1370,15],[1140,1430,12],[1100,1320,18],[1160,1490,6],[1100,1415,15]];

// tiny dark documents scattered over panel c
const cDots: Pt[] = [[630,185],[900,185],[940,160],[980,170],[1030,190],[985,215],[950,205],[860,285],[840,275],[745,295],[700,320],[770,330],[800,345],[835,360],[880,395],[910,395],[935,400],[960,410],[1000,380],[975,360],[620,320],[600,340],[660,375],[720,400],[755,430],[790,445],[815,470],[800,495],[850,510],[885,475],[915,500],[960,470],[985,520],[930,570],[870,565],[820,545],[790,580],[745,560],[720,600],[680,620],[640,690],[600,720],[575,755],[620,760],[660,735],[700,705],[755,690],[770,730],[720,770],[690,800],[630,810],[605,840],[640,875],[690,890],[660,920],[610,935],[715,840],[760,795],[810,640],[775,650],[1040,650],[1060,680],[1090,640],[1040,720],[1075,745],[1100,770],[1050,800],[1010,835],[1045,860],[1100,830],[1140,800],[1180,770],[1210,740],[1150,735],[1130,850],[1180,860],[1090,905],[1050,930],[1000,950],[980,925],[1020,1000],[1075,1040],[1120,1000],[1170,950],[1250,930],[1210,900],[1300,860],[1380,830],[1420,850],[1495,785],[1525,820],[1455,700],[1430,600],[1380,560],[1180,600],[1230,560],[1205,510],[1160,540],[1255,440],[1355,510],[1495,350],[1460,480],[1000,1060],[960,1100],[1010,1150],[1060,1120],[1100,1090],[1150,1130],[1180,1170],[1260,1135],[1120,1210],[980,1180],[890,1130],[800,1090],[720,1085],[650,1060],[620,1165],[700,1145],[725,1140],[600,1130],[1190,1385],[1175,1420],[1160,1400],[1240,1325],[1200,1350],[620,1140],[410,610],[430,560],[480,600],[480,690],[320,705],[250,780],[520,800],[540,880],[1330,650],[1140,150],[1050,240],[1160,325],[820,175],[850,210],[910,290],[1000,330]];

// ---- the drawn rings (spread in sheet units)
const a1Rings: Blob[] = [[712,295,95,150],[1178,298,118,198],[368,780,290,318]];
const a2Rings: Blob[] = [[840,350,93,148],[655,535,92,150],[655,950,92,150],[925,1090,92,150]];
const a6Rings: Blob[] = [[150,348,92,265],[427,317,92,148]];
const a3Rings: Blob[] = [[1010,307,80,150],[368,937,82,150]];
const cRings: Blob[] = [[708,150,55,100],[1045,308,55,100],[1045,510,55,100],[1258,372,55,100],[1290,598,55,100],[1335,760,55,100],[620,460,55,100],[540,560,50,100],[447,760,55,100],[908,707,55,100],[822,982,55,100],[223,875,57,75],[272,1075,55,100],[385,1075,55,100],[330,1247,55,100],[973,1340,55,100],[1110,1378,55,100]];

// which page rectangle each sheet of readings covers: [left, top, width, height, sheetW, sheetH]
const sheets: Record<string, number[]> = {
  a1: [0, 0, 450, 380, 1350, 1140],
  a2: [450, 0, 450, 380, 1350, 1140],
  a3: [300, 380, 600, 387, 1568, 1161],
  a6: [120, 340, 300, 260, 900, 780],
  b: [940, 0, 800, 767, 1568, 1568],
  b7: [1300, 320, 300, 200, 900, 600],
  c: [1800, 0, 886, 767, 1568, 1568],
  c8: [1850, 380, 340, 300, 1020, 900],
};

const layers: [string, string, Blob[]][] = [
  ['a1','#4b8fd2',a1Blue],['a1','#47a9cf',a1Sky],['a1','#5feaa3',a1Mint],['a1','#c5cadf',a1Lav],['a1','#45cba9',a1Teal],['a1','#85a095',a1Sage],['a1','#9dae6c',a1Olive],['a1','#7d70c8',a1Violet],['a1','#e58a55',a1Orange],['a1','#b9875c',a1Brown],
  ['a2','#a8d2d8',a2Pale],['a2','#d3cbdc',a2Lilac],['a2','#3ac6a2',a2Teal],['a2','#8f9a94',a2Gray],['a2','#b59c72',a2Tan],['a2','#d28478',a2Rose],['a2','#75c276',a2Green],['a2','#ef7326',a2Orange],['a2','#f35cca',a2Magenta],['a2','#e4759a',a2Coral],['a2','#c98d6d',a2Wheat],['a2','#b3b62f',a2Lime],['a2','#8a9a76',a2Moss],['a2','#6d88ad',a2Slate],['a2','#9a72c0',a2Purple],['a2','#8ec93c',a2Grass],['a2','#4f7fc8',a2Blue],
  ['a3','#8ec93c',a3Grass],['a3','#c08888',a3Rose],['a3','#a5667f',a3Mauve],['a3','#8d84a2',a3GreyLav],['a3','#a0605c',a3Brown],['a3','#a26ab8',a3Orchid],['a3','#9088d0',a3Periwinkle],['a3','#b99080',a3Tan],['a3','#a5a552',a3Olive],['a3','#7d9a60',a3Moss],['a3','#5f9a7c',a3Dark],['a3','#e8945c',a3Orange],['a3','#c79268',a3Clay],['a3','#63a05c',a3Forest],['a3','#a3bf44',a3Lime],['a3','#7d9da8',a3Steel],['a3','#ef44ee',a3Fuchsia],
  ['a6','#7a6aa8',a6Purple],['a6','#8b9a8e',a6Sage],['a6','#9cac60',a6Olive],['a6','#6ccb50',a6Green],['a6','#a57a80',a6Mauve],['a6','#bf8a60',a6Brown],['a6','#45b0a8',a6Teal],
  ['b','#2ff09e',bMint],['b','#ffe000',bYellow],['b','#a8e020',bLeaf],['b','#4a4aff',bBlue],['b','#98e890',bPaleGreen],['b','#c8a888',bMixedUpper],['b','#f05030',bRedOrange],['b','#6088b0',bMisc],['b','#ff98b8',bPink],['b','#f8ac8c',bPeach],['b','#ffd000',bGold],['b','#ff2010',bRed],['b','#c07880',bRoseGray],
  ['b','#10ff10',bGreen],['b','#80f040',bYellowGreen],['b','#4088c0',bSteelBlue],['b','#ae8400',bGold2],['b','#4a30f0',bIndigo],['b','#8030d0',bPurple],['b','#808080',bGray],['b','#90a810',bOlive],['b','#8a9a70',bMidMix],
  ['b7','#a5b060',bOliveBits],['b7','#e0853a',bOrange],['b7','#ff4e20',bRedOrange2],['b7','#f5a878',bPeachCore],['b7','#9de060',bLime],['b7','#50b090',bTeal],['b7','#30d050',bGreen2],['b7','#a07890',bMauve],['b7','#c050d8',bViolet],
  ['c8','#ff4f3f',c8Red],['c8','#d87a60',c8Salmon],['c8','#b09070',c8Tan],['c8','#60b080',c8Teal],['c8','#8ab060',c8Moss],['c8','#a0a0a0',c8Gray],['c8','#d07880',c8Rose],['c8','#35cc50',c8Bright],['c8','#9aa860',c8Sage],['c8','#a8b880',c8Blend],['c8','#70c070',c8Leaf],['c8','#d49080',c8Dusk],['c8','#e85c84',c8Pink],['c8','#a09040',c8Olive],['c8','#9040b0',c8Purple],['c8','#4090d0',c8Blue],
  ['c','#b5bd70',cOliveTop],['c','#b5b090',cBeige],['c','#b850b0',cOrchid],['c','#8080c0',cSlate],['c','#e860f0',cPinkViolet],['c','#a050d0',cViolet],['c','#96807a',cBrownGray],['c','#3fa8ec',cBlue],['c','#5a96c4',cSteel],['c','#80e020',cLime],['c','#10e090',cJade],['c','#80b890',cFaded],['c','#b08070',cMisc],['c','#5068c0',cSmall],['c','#8070f0',cIndigo],['c','#808060',cOliveGrey],['c','#60a880',cSage],['c','#6088a0',cBlueGray],['c','#c09030',cGoldLow],['c','#84c2c8',cPaleTeal],
];

const ringLayers: [string, Blob[]][] = [['a1', a1Rings], ['a2', a2Rings], ['a6', a6Rings], ['a3', a3Rings], ['c', cRings]];

const WIDTH = 2686;
const HEIGHT = 767;

const App = () => {
  const ref = useRef<SVGSVGElement | null>(null);

  useEffect(() => {
    const svg = d3.select(ref.current);
    svg.selectAll('*').remove();

    const scalesFor = (name: string) => {
      const [left, top, w, h, sw, sh] = sheets[name];
      return {
        x: d3.scaleLinear().domain([0, sw]).range([left, left + w]),
        y: d3.scaleLinear().domain([0, sh]).range([top, top + h]),
        rx: d3.scaleLinear().domain([0, sw]).range([0, w]),
        ry: d3.scaleLinear().domain([0, sh]).range([0, h]),
      };
    };

    const addBlobs = (g: any, name: string, blobs: Blob[]) => {
      const s = scalesFor(name);
      return g.selectAll('ellipse')
        .data(blobs)
        .enter().append('ellipse')
        .attr('cx', (d: Blob) => s.x(d[0]))
        .attr('cy', (d: Blob) => s.y(d[1]))
        .attr('rx', (d: Blob) => s.rx(d[2]))
        .attr('ry', (d: Blob) => s.ry(d[3] ?? d[2]))
        .attr('transform', (d: Blob) => `rotate(${d[4] ?? 0} ${s.x(d[0])} ${s.y(d[1])})`);
    };

    layers.forEach(([name, tone, blobs]) => {
      // the thin outline in the same tone fattens the blobs like in the print
      addBlobs(svg.append('g').attr('fill', tone).attr('stroke', tone).attr('stroke-width', 2), name, blobs);
    });

    // scatter of tiny dots in c
    const sc = scalesFor('c');
    svg.append('g').attr('fill', '#555')
      .selectAll('circle')
      .data(cDots)
      .enter().append('circle')
      .attr('cx', d => sc.x(d[0]))
      .attr('cy', d => sc.y(d[1]))
      .attr('r', 1.3);

    ringLayers.forEach(([name, rings]) => {
      addBlobs(svg.append('g').attr('fill', 'none').attr('stroke', '#000').attr('stroke-width', 4), name, rings);
    });

    // panel titles
    const titleX = [[1, 80, 70], [946, 1032, 177], [1849, 1924, 208]];
    const titleY = [78, 81, 74];
    const boldSize = [70, 70, 68];
    const plainSize = [70, 62, 64];
    panelTitles.forEach((t, i) => {
      const g = svg.append('g').attr('font-family', '"Liberation Serif", serif').attr('fill', '#000');
      g.append('text').attr('x', titleX[i][0]).attr('y', titleY[i])
        .attr('font-size', boldSize[i]).attr('font-weight', 'bold').text(t.bold);
      g.append('text').attr('x', titleX[i][1]).attr('y', titleY[i])
        .attr('font-size', plainSize[i])
        .attr('textLength', titleX[i][2]).attr('lengthAdjust', 'spacingAndGlyphs')
        .text(t.plain);
    });
  }, []);

  return (
    <svg ref={ref} width={WIDTH} height={HEIGHT} viewBox={`0 0 ${WIDTH} ${HEIGHT}`}
      style={{ position: 'absolute', left: 0, top: 0, background: '#fff' }} />
  );
};

export default App;
